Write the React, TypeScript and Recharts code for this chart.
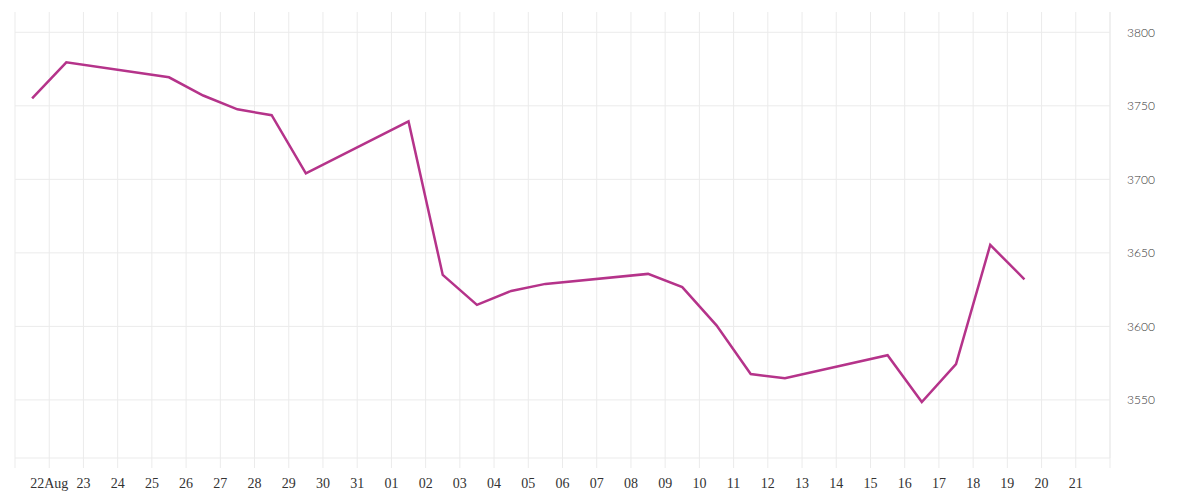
import React from 'react';
import { LineChart, Line, XAxis, YAxis, CartesianGrid } from 'recharts';

// trading days (midday points) and closing values
const dates = [
    '2025-08-21', '2025-08-22', '2025-08-25', '2025-08-26', '2025-08-27', '2025-08-28', '2025-08-29',
    '2025-09-01', '2025-09-02', '2025-09-03', '2025-09-04', '2025-09-05',
    '2025-09-08', '2025-09-09', '2025-09-10', '2025-09-11', '2025-09-12',
    '2025-09-15', '2025-09-16', '2025-09-17', '2025-09-18', '2025-09-19',
];
const values = [
    3755, 3779.6, 3769.4, 3757, 3747.6, 3743.6, 3704,
    3739.4, 3635, 3614.6, 3624.1, 3628.9,
    3635.7, 3626.7, 3600.7, 3567.6, 3564.8,
    3580.4, 3548.6, 3574.4, 3655.4, 3632,
];

// one tick per day, Aug 21 .. Sep 22
const dayLabels = [
    '', '22Aug', '23', '24', '25', '26', '27', '28', '29', '30', '31',
    '01', '02', '03', '04', '05', '06', '07', '08', '09', '10',
    '11', '12', '13', '14', '15', '16', '17', '18', '19', '20', '21', '',
];
const yTicks = [3550, 3600, 3650, 3700, 3750, 3800];

const START = Date.UTC(2025, 7, 21);
const DAY = 86400000;

const data = dates.map((d, i) => {
    const [y, m, dd] = d.split('-').map(Number);
    return { t: (Date.UTC(y, m - 1, dd) - START) / DAY + 0.5, value: values[i] };
});

const xTicks = dayLabels.map((_, i) => i);
const GRID = '#ebebeb';

export default function App() {
    return (
        <div style={{ position: 'absolute', left: 0, top: 0, background: '#fff' }}>
            <LineChart width={1200} height={500} data={data} margin={{ top: 12, right: 0, left: 15, bottom: 0 }}>
                <CartesianGrid stroke={GRID} strokeWidth={1} syncWithTicks />
                <XAxis
                    dataKey="t"
                    type="number"
                    domain={[0, 32]}
                    ticks={xTicks}
                    interval={0}
                    tickFormatter={(v: number) => dayLabels[v] ?? ''}
                    height={42}
                    tickSize={10}
                    tickMargin={10}
                    axisLine={{ stroke: GRID }}
                    tickLine={{ stroke: GRID }}
                    tick={{ fill: '#333', fontSize: 14, fontFamily: '"Liberation Serif", serif' }}
                />
                <YAxis
                    orientation="right"
                    type="number"
                    domain={[3510.5, 3813.8]}
                    ticks={yTicks}
                    width={90}
                    tickLine={false}
                    tickSize={6}
                    tickMargin={11}
                    axisLine={{ stroke: GRID }}
                    tick={{ fill: '#333', fontSize: 12, fontFamily: 'Lato, sans-serif', fontWeight: 300, textAnchor: 'start' }}
                />
                <Line
                    type="linear"
                    dataKey="value"
                    stroke="#b5338a"
                    strokeWidth={2.5}
                    dot={false}
                    activeDot={false}
                    isAnimationActive={false}
                />
            </LineChart>
        </div>
    );
}
